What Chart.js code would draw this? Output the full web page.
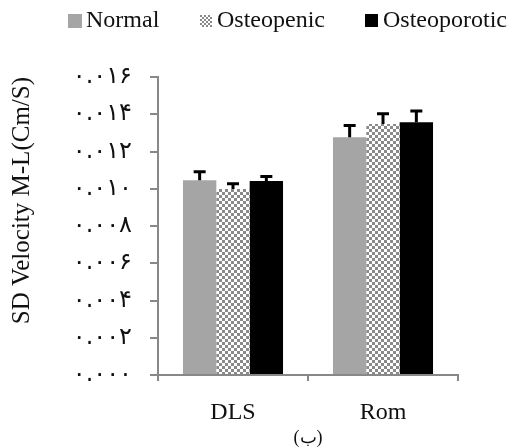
<!DOCTYPE html>
<html>
<head>
<meta charset="utf-8">
<script src="https://cdn.jsdelivr.net/npm/chart.js@4.4.1/dist/chart.umd.min.js"></script>
<style>
  html, body { margin: 0; padding: 0; background: #fff; }
  #wrap { position: relative; width: 511px; height: 447px; }
  #legend { position: absolute; left: 0; top: 0; width: 511px; height: 40px; font-family: "Liberation Serif", serif; font-size: 24px; color: #111; }
  #legend .box { position: absolute; }
  #legend .txt { position: absolute; top: 7px; line-height: 24px; white-space: nowrap; }
</style>
</head>
<body>
<div id="wrap">
  <canvas id="chart" width="511" height="447"></canvas>
  <div id="legend">
    <div class="box" style="left:68px;top:14px;width:14px;height:14px;background:#a5a5a5"></div>
    <span class="txt" style="left:86px">Normal</span>
    <div class="box" id="checkbox" style="left:200px;top:15px;width:12px;height:12px"></div>
    <span class="txt" style="left:217px">Osteopenic</span>
    <div class="box" style="left:365px;top:14px;width:13px;height:13px;background:#000"></div>
    <span class="txt" style="left:383px">Osteoporotic</span>
  </div>
</div>
<script>
// ---------- Data ---------- //
const categories = ["DLS", "Rom"];
const seriesNames = ["Normal", "Osteopenic", "Osteoporotic"];
const normalValues = [0.01045, 0.01276];
const osteopenicValues = [0.00998, 0.01348];
const osteoporoticValues = [0.01042, 0.01357];
// upper SD error bars
const normalErrors = [0.00046, 0.00064];
const osteopenicErrors = [0.00029, 0.00055];
const osteoporoticErrors = [0.00024, 0.00060];
// Persian tick labels, 0.000 .. 0.016
const tickLabels = ["۰.۰۰۰", "۰.۰۰۲", "۰.۰۰۴", "۰.۰۰۶", "۰.۰۰۸", "۰.۰۱۰", "۰.۰۱۲", "۰.۰۱۴", "۰.۰۱۶"];

// checker pattern for Osteopenic
function makeChecker(cell, dark) {
  const c = document.createElement("canvas");
  c.width = cell * 2;
  c.height = cell * 2;
  const g = c.getContext("2d");
  g.fillStyle = "#fff";
  g.fillRect(0, 0, cell * 2, cell * 2);
  g.fillStyle = dark;
  g.fillRect(0, 0, cell, cell);
  g.fillRect(cell, cell, cell, cell);
  return c;
}
const ctx = document.getElementById("chart").getContext("2d");
const checker = ctx.createPattern(makeChecker(3, "#8a8a8a"), "repeat");
document.getElementById("checkbox").style.background =
  "url(" + makeChecker(2, "#8a8a8a").toDataURL() + ")";

const errorSets = [normalErrors, osteopenicErrors, osteoporoticErrors];

// draws the upper error bars
const errorBars = {
  id: "errorBars",
  afterDatasetsDraw(chart) {
    const c = chart.ctx;
    const yScale = chart.scales.y;
    c.save();
    c.strokeStyle = "#000";
    c.lineWidth = 3;
    chart.data.datasets.forEach((ds, di) => {
      const meta = chart.getDatasetMeta(di);
      meta.data.forEach((bar, i) => {
        const top = yScale.getPixelForValue(ds.data[i] + errorSets[di][i]);
        c.beginPath();
        c.moveTo(bar.x, bar.y);
        c.lineTo(bar.x, top);
        c.moveTo(bar.x - 6, top);
        c.lineTo(bar.x + 6, top);
        c.stroke();
      });
    });
    c.restore();
  }
};

const axisColor = "#888888";

new Chart(ctx, {
  type: "bar",
  data: {
    labels: categories,
    datasets: [
      { label: seriesNames[0], data: normalValues, backgroundColor: "#a5a5a5" },
      { label: seriesNames[1], data: osteopenicValues, backgroundColor: checker },
      { label: seriesNames[2], data: osteoporoticValues, backgroundColor: "#000" }
    ]
  },
  options: {
    responsive: false,
    animation: false,
    layout: { padding: { top: 77, right: 53, bottom: 0, left: 0 } },
    datasets: { bar: { categoryPercentage: 0.667, barPercentage: 1.0 } },
    plugins: { legend: { display: false }, tooltip: { enabled: false } },
    scales: {
      x: {
        grid: { drawOnChartArea: false, tickLength: 6, color: axisColor, lineWidth: 2 },
        border: { color: axisColor, width: 2 },
        ticks: { color: "#111", padding: 17, font: { family: "Liberation Serif", size: 24 } },
        title: {
          display: true, text: "(ب)", color: "#111",
          font: { family: "Liberation Serif", size: 18, lineHeight: 1 },
          padding: { top: 0, bottom: 0 }
        },
        afterFit(scale) { scale.height = 72; }
      },
      y: {
        min: 0,
        max: 0.016,
        grid: { drawOnChartArea: false, tickLength: 8, color: axisColor, lineWidth: 2 },
        border: { color: axisColor, width: 2 },
        ticks: {
          stepSize: 0.002,
          color: "#111",
          padding: 18,
          font: { family: "DejaVu Sans", size: 24 },
          callback: (v, i) => tickLabels[i]
        },
        title: {
          display: true, text: "SD Velocity M-L(Cm/S)", color: "#111", align: "end",
          font: { family: "Liberation Serif", size: 25 },
          padding: { top: 7, bottom: 0 }
        },
        afterFit(scale) { scale.width = 158; }
      }
    }
  },
  plugins: [errorBars]
});
</script>
</body>
</html>
